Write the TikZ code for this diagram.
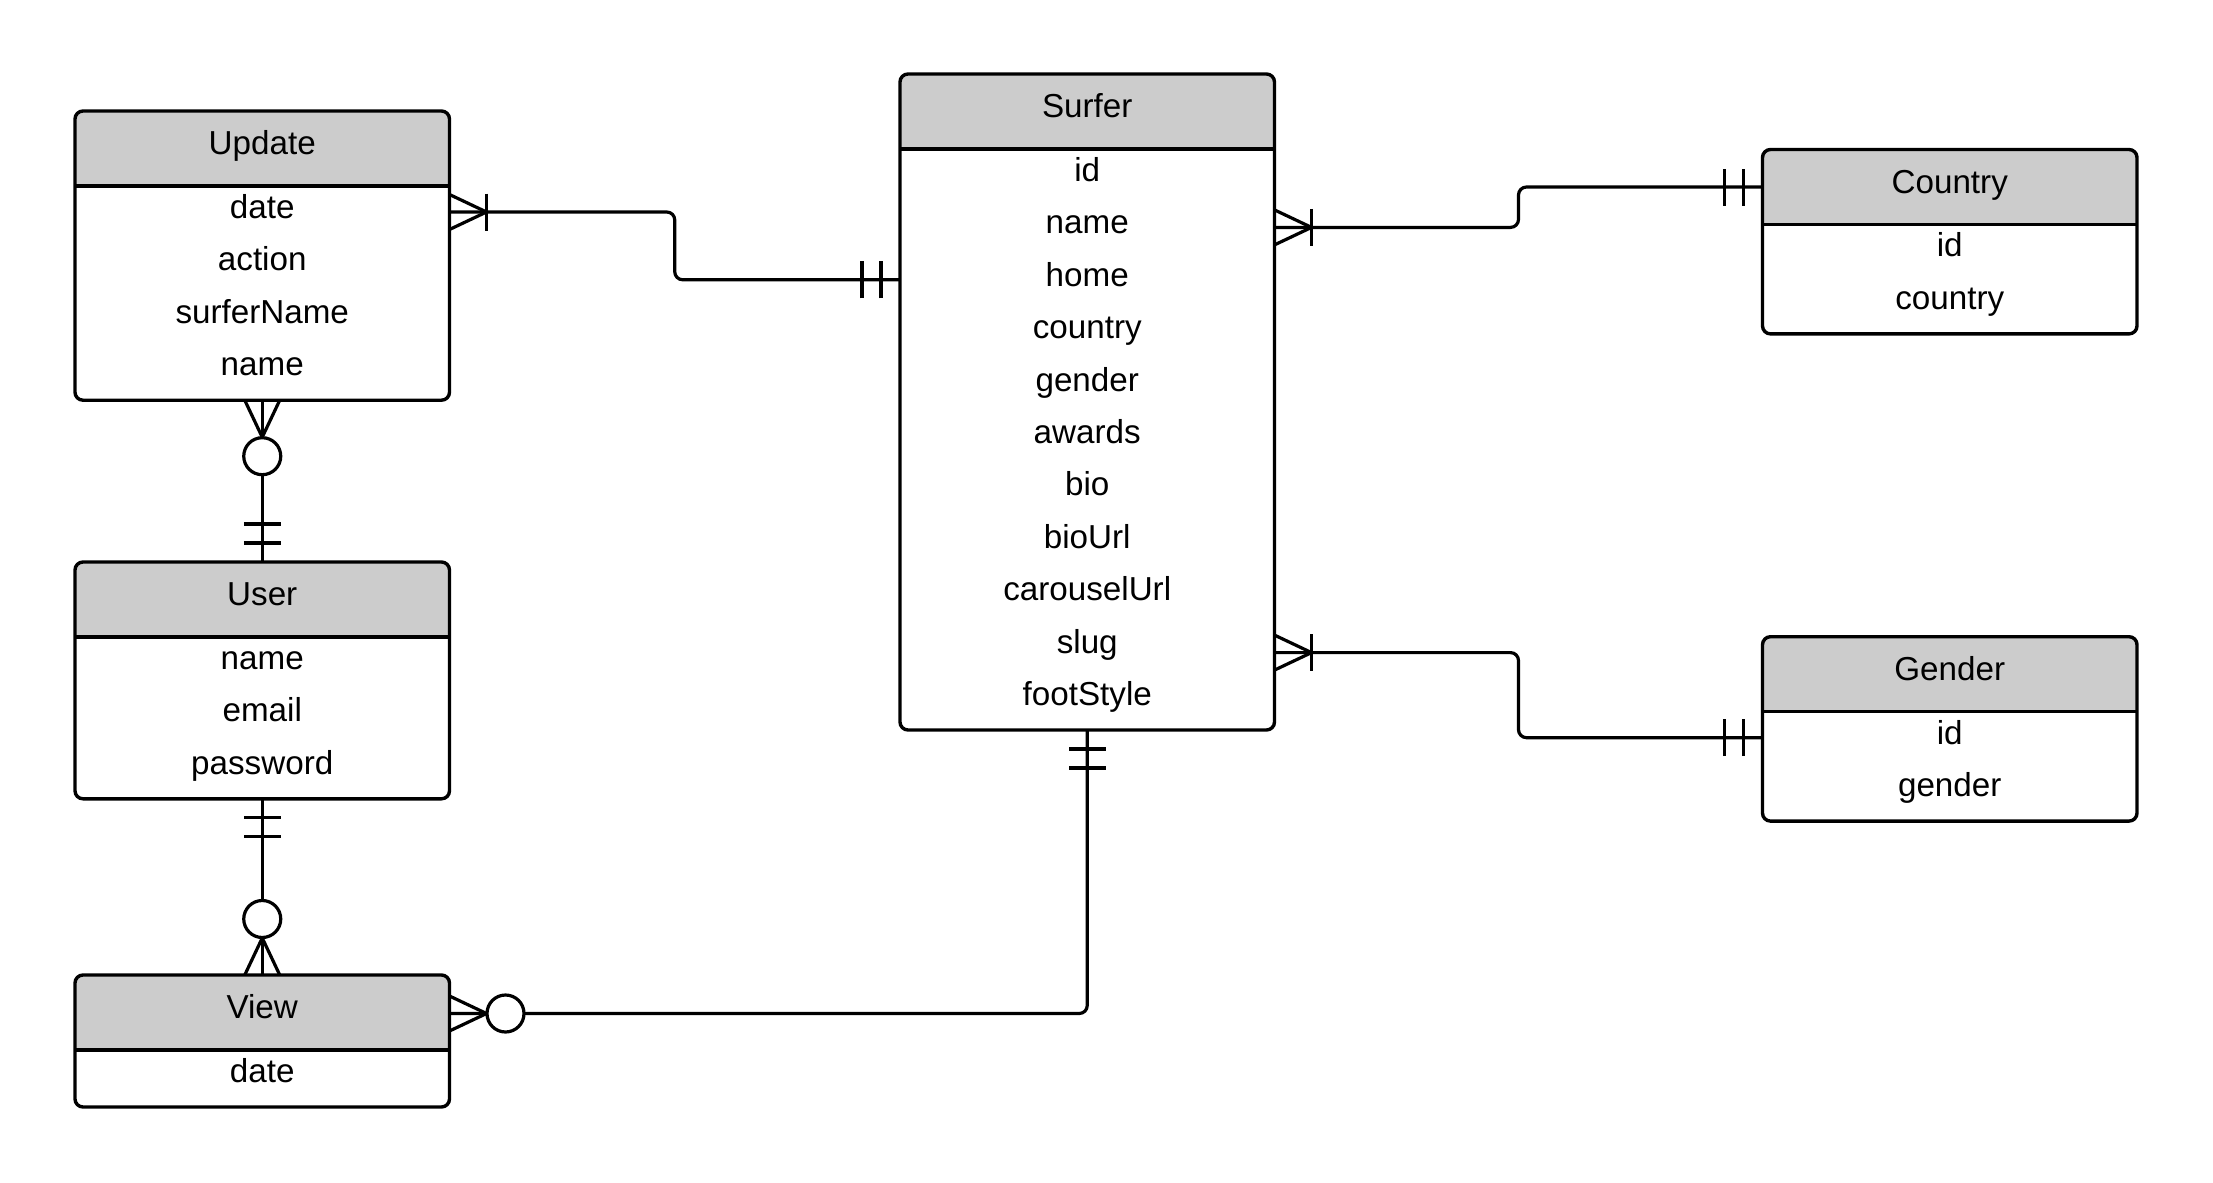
\documentclass[tikz,border=0pt]{standalone}
\usepackage{fontspec}
\setmainfont{Liberation Sans}
\usetikzlibrary{calc}
\definecolor{hdrgray}{HTML}{CCCCCC}
\tikzset{
  conn/.style={line width=1.6pt, draw=black, line cap=butt},
  frame/.style={line width=1.7pt, draw=black, rounded corners=4pt},
  cell/.style={inner sep=0pt, outer sep=0pt, minimum width=187.25pt,
    text height=11.35pt, text depth=4.9pt,
    font=\fontsize{16.6pt}{20pt}\selectfont, align=center},
  onemany/.pic={\draw[conn] (0,-17.5) -- (37,0) -- (0,17.5);
                \draw[conn] (37,-18.5) -- (37,18.5);},
  zeromany/.pic={\draw[conn] (0,-17.5) -- (37,0) -- (0,17.5);
                 \draw[conn, fill=white] (56,0) circle[radius=9.25pt];},
  onlyone/.pic={\draw[conn] (19,-18.5) -- (19,18.5) (38,-18.5) -- (38,18.5);}
}
\newcommand\erentity[6]{%
  \pgfmathsetmacro\ercx{#2+187.25}%
  \pgfmathsetmacro\erH{132+(#4-1)*52.4}%
  \pgfmathsetmacro\erHpt{\erH*0.5}%
  \pgfmathsetmacro\ercy{#3+\erH/2}%
  \node[inner sep=0pt, outer sep=0pt, minimum width=187.25pt, minimum height=\erHpt pt] (#1) at (\ercx,\ercy) {};
  \coordinate (#1hl) at (\ercx,{#3+75});
  \coordinate (#1hm) at (\ercx,{#3+36});
  \fill[hdrgray, rounded corners=4pt] (#1.north west) rectangle (#1.east |- #1hl);
  \fill[hdrgray] (#1.west |- #1hm) rectangle (#1.east |- #1hl);
  \node[cell] (#1t) at (\ercx,{#3+37.5}) {#5};
  \foreach \r [count=\i] in {#6} {\node[cell] (#1r\i) at (\ercx,{#3+101+(\i-1)*52.4}) {\r};}
  \draw[frame] (#1.north west) rectangle (#1.south east);
  \draw[line width=1.7pt] (#1.west |- #1hl) -- (#1.east |- #1hl);
}
\begin{document}
\begin{tikzpicture}[x=0.5pt, y=-0.5pt]
\fill[white] (0,0) rectangle (2213,1183);
\useasboundingbox (0,0) rectangle (2213,1183);

\erentity{update}{75}{111}{4}{Update}{date,action,surferName,name}
\erentity{user}{75}{562}{3}{User}{name,email,password}
\erentity{view}{75}{975}{1}{View}{date}
\erentity{surfer}{900}{74}{11}{Surfer}{id,name,home,country,gender,awards,bio,bioUrl,carouselUrl,slug,footStyle}
\erentity{country}{1762.5}{149.5}{2}{Country}{id,country}
\erentity{gender}{1762.5}{636.7}{2}{Gender}{id,gender}

% connectors
\draw[conn, rounded corners=4pt] (updater1.east) -| ($(updater1.east)!.5!(surferr3.west)$) |- (surferr3.west);
\draw[conn, rounded corners=4pt] (surferr2.east) -| ($(surferr2.east)!.5!(countryt.west)$) |- (countryt.west);
\draw[conn, rounded corners=4pt] ([yshift=-3pt]surferr10.east) -| ($([yshift=-3pt]surferr10.east)!.5!(genderr1.west)$) |- (genderr1.west);
\draw[conn, rounded corners=4pt] ([yshift=-0.5pt]viewt.east) -| (surfer.south);
\draw[conn] (update.south) -- (user.north);
\draw[conn] (user.south) -- (view.north);

% end markers
\pic at (updater1.east) {onemany};
\pic[rotate=180] at (surferr3.west) {onlyone};
\pic at (surferr2.east) {onemany};
\pic[rotate=180] at (countryt.west) {onlyone};
\pic at ([yshift=-3pt]surferr10.east) {onemany};
\pic[rotate=180] at (genderr1.west) {onlyone};
\pic at ([yshift=-0.5pt]viewt.east) {zeromany};
\pic[rotate=-90] at (surfer.south) {onlyone};
\pic[rotate=-90] at (update.south) {zeromany};
\pic[rotate=90] at (user.north) {onlyone};
\pic[rotate=-90] at (user.south) {onlyone};
\pic[rotate=90] at (view.north) {zeromany};
\end{tikzpicture}
\end{document}
